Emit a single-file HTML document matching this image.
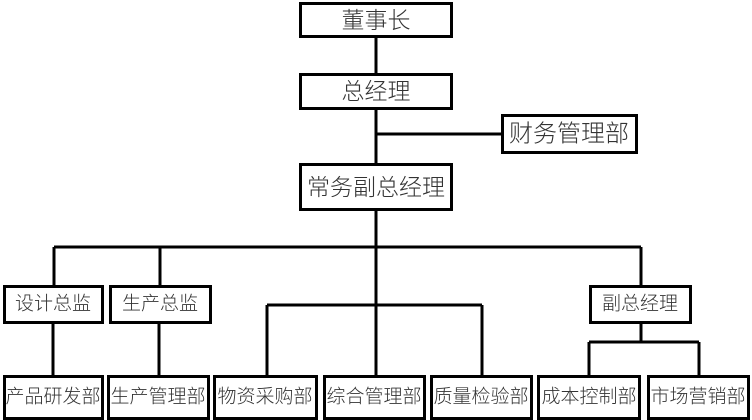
<!DOCTYPE html>
<html><head><meta charset="utf-8"><style>
html,body{margin:0;padding:0;background:#fff;}
svg{display:block;}
text{font-family:"Liberation Sans","Noto Sans CJK SC","WenQuanYi Zen Hei",sans-serif;font-weight:300;fill:#333;text-anchor:middle;dominant-baseline:central;}
</style></head><body>
<svg width="752" height="420" viewBox="0 0 752 420" xmlns="http://www.w3.org/2000/svg">
<g stroke="#000" stroke-width="3" fill="none">
<line x1="376" y1="38" x2="376" y2="73"/>
<line x1="376" y1="110" x2="376" y2="163"/>
<line x1="376" y1="134" x2="501" y2="134"/>
<line x1="376" y1="211" x2="376" y2="375"/>
<line x1="54" y1="247" x2="641" y2="247"/>
<line x1="54" y1="247" x2="54" y2="285"/>
<line x1="160" y1="247" x2="160" y2="285"/>
<line x1="641" y1="247" x2="641" y2="285"/>
<line x1="53" y1="324" x2="53" y2="375"/>
<line x1="159" y1="324" x2="159" y2="375"/>
<line x1="267" y1="305" x2="482" y2="305"/>
<line x1="267" y1="305" x2="267" y2="375"/>
<line x1="482" y1="305" x2="482" y2="375"/>
<line x1="641" y1="324" x2="641" y2="342"/>
<line x1="589" y1="342" x2="699" y2="342"/>
<line x1="589" y1="342" x2="589" y2="375"/>
<line x1="699" y1="342" x2="699" y2="375"/>
</g>
<g stroke="#000" stroke-width="3" fill="#fff">
<rect x="300.5" y="3.5" width="151" height="33"/>
<rect x="300.5" y="74.5" width="151" height="34"/>
<rect x="502.5" y="115.5" width="134" height="37"/>
<rect x="300.5" y="164.5" width="151" height="45"/>
<rect x="4.5" y="286.5" width="98" height="36"/>
<rect x="110.5" y="286.5" width="100" height="36"/>
<rect x="590.5" y="286.5" width="100" height="36"/>
<rect x="4.5" y="376.5" width="98" height="42"/>
<rect x="108.5" y="376.5" width="100" height="42"/>
<rect x="214.5" y="376.5" width="102" height="42"/>
<rect x="324.5" y="376.5" width="100" height="42"/>
<rect x="431.5" y="376.5" width="100" height="42"/>
<rect x="538.5" y="376.5" width="101" height="42"/>
<rect x="648.5" y="376.5" width="100" height="42"/>
</g>
<g font-size="23">
<text x="376" y="20">董事长</text>
<text x="376" y="91">总经理</text>
<text x="376" y="187">常务副总经理</text>
</g>
<text x="569" y="134" font-size="24">财务管理部</text>
<g font-size="19">
<text x="53" y="304">设计总监</text>
<text x="160" y="304">生产总监</text>
<text x="640" y="304">副总经理</text>
<text x="53" y="397">产品研发部</text>
<text x="158" y="397">生产管理部</text>
<text x="265" y="397">物资采购部</text>
<text x="374" y="397">综合管理部</text>
<text x="481" y="397">质量检验部</text>
<text x="589" y="397">成本控制部</text>
<text x="698" y="397">市场营销部</text>
</g>
</svg>
</body></html>
